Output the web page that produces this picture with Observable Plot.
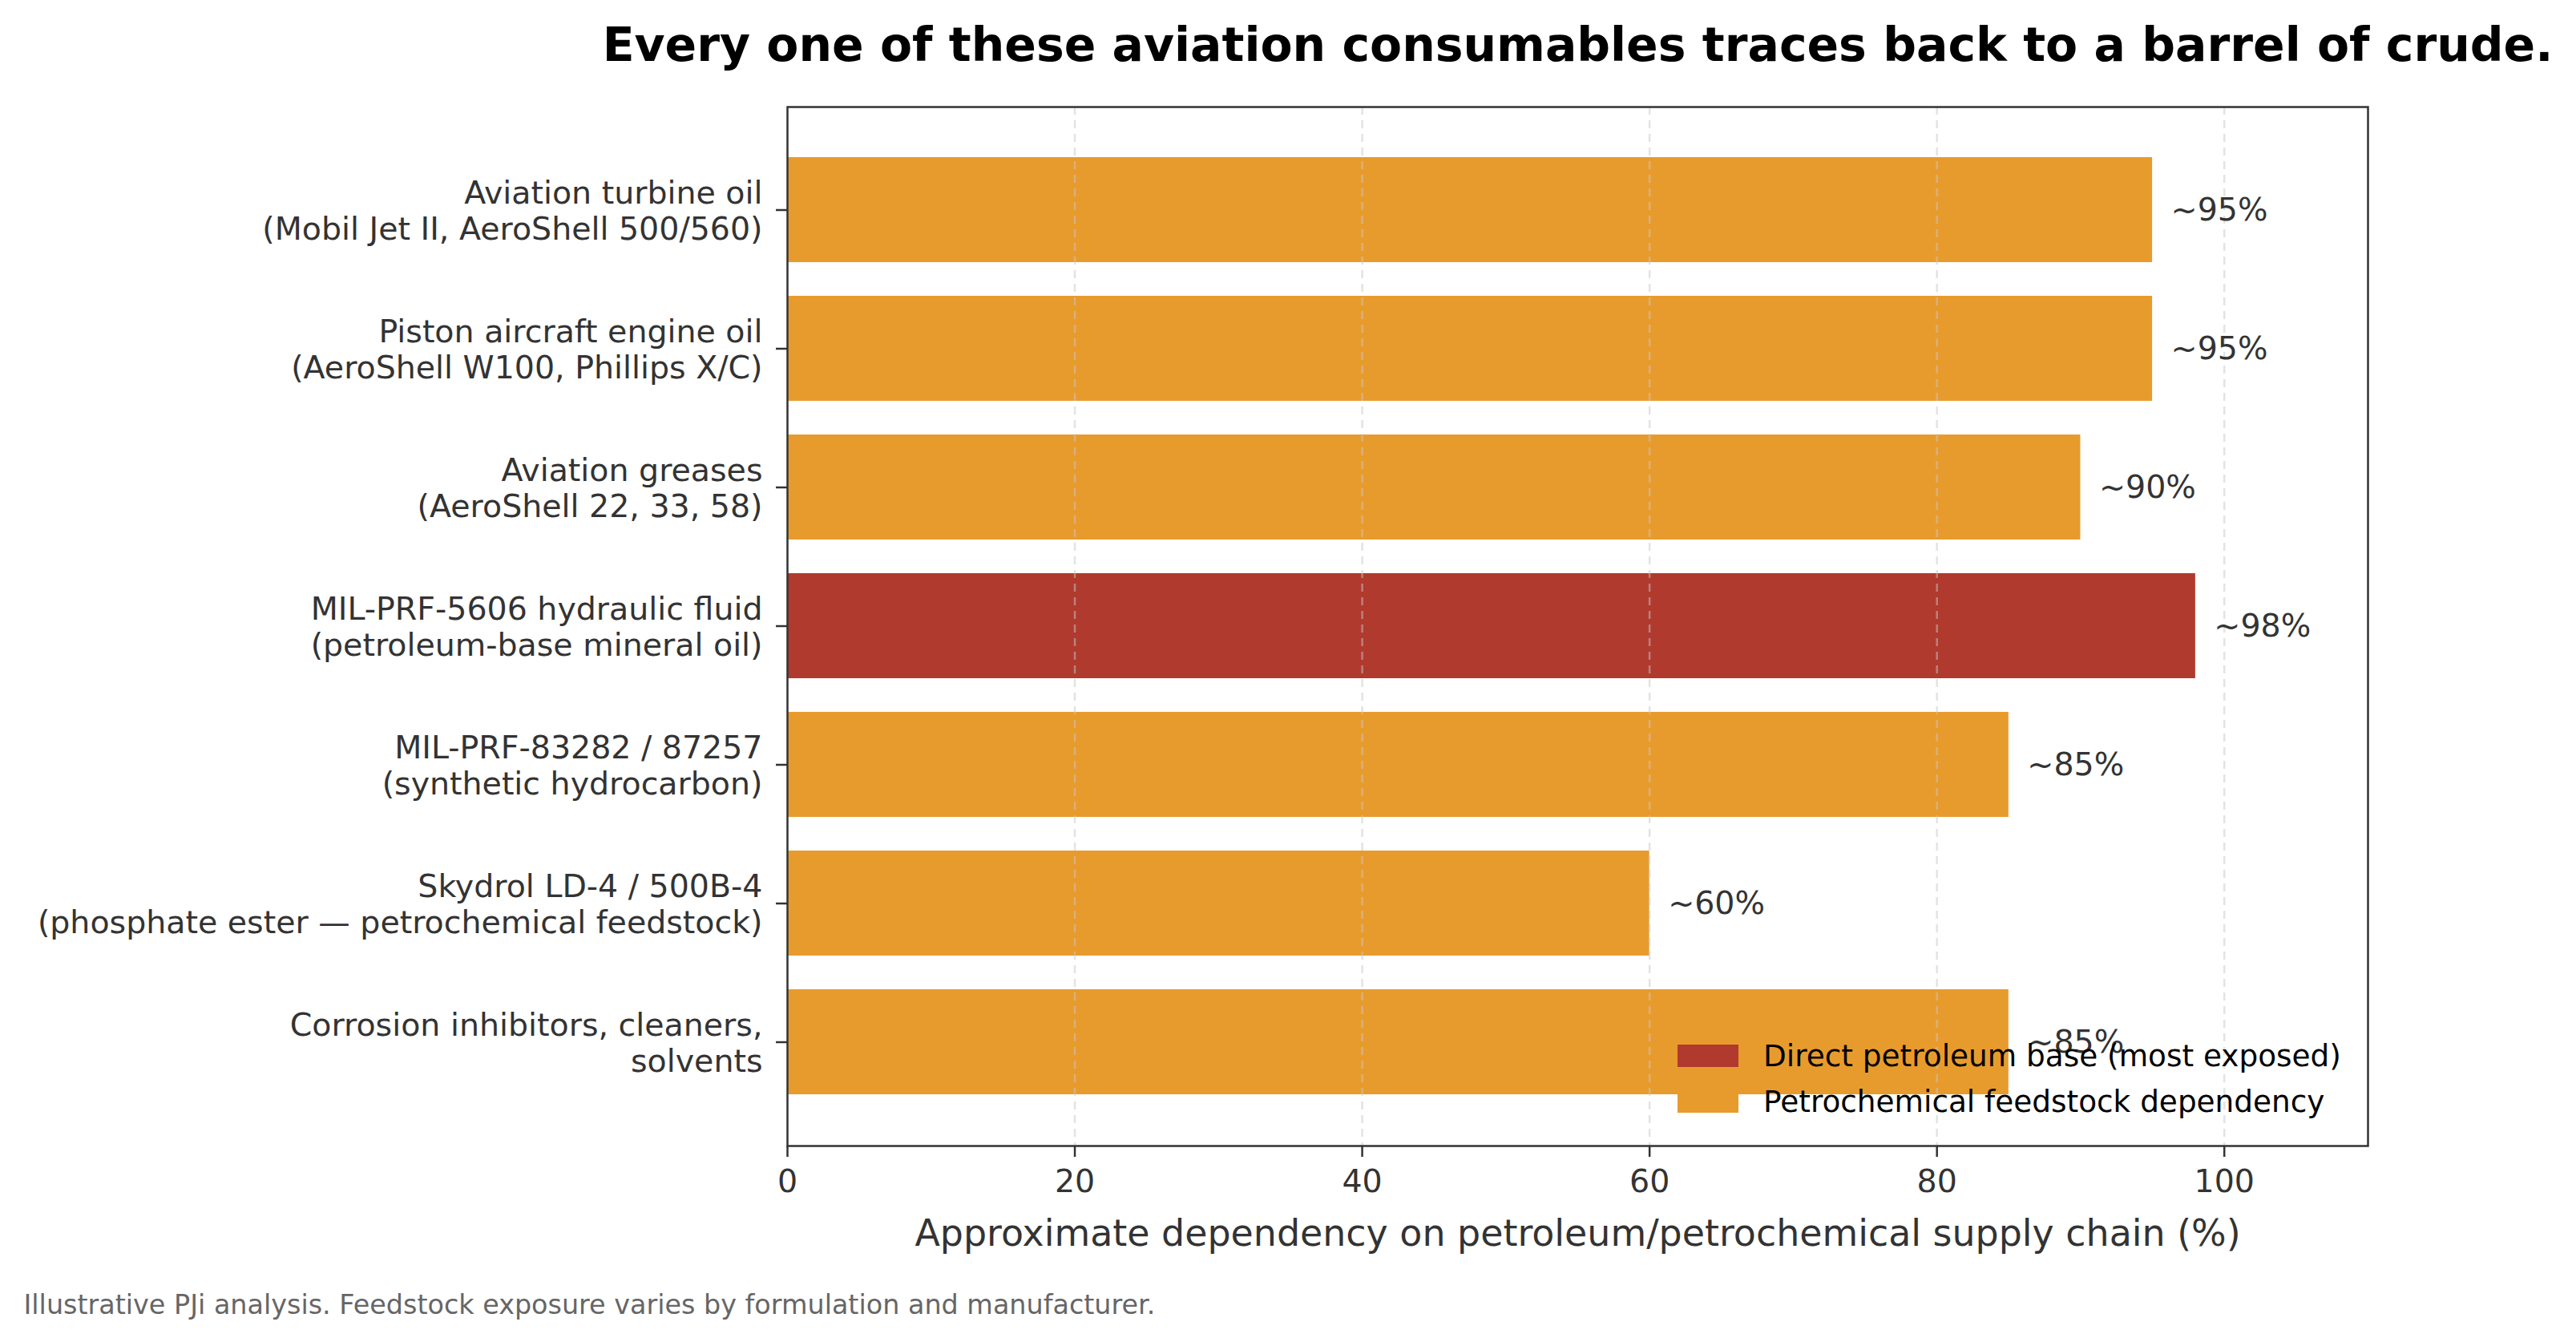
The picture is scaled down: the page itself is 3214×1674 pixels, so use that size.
<!DOCTYPE html>
<html><head><meta charset="utf-8">
<script src="https://cdn.jsdelivr.net/npm/d3@7"></script>
<script src="https://cdn.jsdelivr.net/npm/@observablehq/plot@0.6"></script>
<style>
html,body{margin:0;padding:0;background:#fff;}
#chart{position:relative;width:3214px;height:1674px;overflow:hidden;font-family:"DejaVu Sans",sans-serif;}
#legend{position:absolute;left:2093px;top:1288.5px;font-size:37.4px;color:#000;font-family:"DejaVu Sans",sans-serif;}
#legend .row{display:flex;align-items:center;height:57px;white-space:nowrap;}
#legend .sw{width:76px;height:28px;margin-right:31px;flex:none;}
</style></head><body><div id="chart"></div>
<script>
const categories = [
  "Aviation turbine oil\n(Mobil Jet II, AeroShell 500/560)",
  "Piston aircraft engine oil\n(AeroShell W100, Phillips X/C)",
  "Aviation greases\n(AeroShell 22, 33, 58)",
  "MIL-PRF-5606 hydraulic fluid\n(petroleum-base mineral oil)",
  "MIL-PRF-83282 / 87257\n(synthetic hydrocarbon)",
  "Skydrol LD-4 / 500B-4\n(phosphate ester \u2014 petrochemical feedstock)",
  "Corrosion inhibitors, cleaners,\nsolvents"
];
const values = [95, 95, 90, 98, 85, 60, 85];
const types = ["feedstock", "feedstock", "feedstock", "direct", "feedstock", "feedstock", "feedstock"];
const typeKeys = ["direct", "feedstock"];
const typeNames = ["Direct petroleum base (most exposed)", "Petrochemical feedstock dependency"];
const typeColors = ["#B03A2E", "#E89B2D"];
const xTicks = [0, 20, 40, 60, 80, 100];
const titleText = "Every one of these aviation consumables traces back to a barrel of crude.";
const xLabelText = "Approximate dependency on petroleum/petrochemical supply chain (%)";
const captionText = "Illustrative PJi analysis. Feedstock exposure varies by formulation and manufacturer.";

const data = categories.map((c, i) => ({category: c, value: values[i], type: types[i], label: `~${values[i]}%`}));

const plot = Plot.plot({
  width: 3214, height: 1674,
  marginLeft: 982, marginRight: 260, marginTop: 133, marginBottom: 245,
  style: {fontFamily: "DejaVu Sans", fontSize: "39.5px", color: "#333", background: "#fff", overflow: "visible"},
  x: {domain: [0, 110], label: null},
  y: {domain: categories, paddingInner: 0.24, paddingOuter: 0.36, label: null},
  color: {domain: typeKeys, range: typeColors},
  marks: [
    Plot.barX(data, {x: "value", y: "category", fill: "type"}),
    Plot.gridX(xTicks.filter(d => d > 0), {stroke: "#c8c8c8", strokeOpacity: 0.5, strokeWidth: 2.5, strokeDasharray: "10,7"}),
    Plot.text(data, {x: "value", y: "category", text: "label", textAnchor: "start", dx: 23, fill: "#333", fontSize: 39.5}),
    Plot.axisX({ticks: xTicks, tickSize: 14, tickPadding: 15, strokeWidth: 2.5, label: null, fontSize: 39.5}),
    Plot.axisY({tickSize: 14, tickPadding: 17, strokeWidth: 2.5, label: null, lineHeight: 1.15, fontSize: 39.5}),
    Plot.frame({stroke: "#333", strokeWidth: 2.5}),
    Plot.text([titleText], {text: d => d, frameAnchor: "top", dy: -58, lineAnchor: "bottom", fontSize: 58.4, fontWeight: "bold", fill: "#000"}),
    Plot.text([xLabelText], {text: d => d, frameAnchor: "bottom", dy: 124, lineAnchor: "bottom", fontSize: 45.9, fill: "#333"}),
    Plot.text([captionText], {text: d => d, frameAnchor: "bottom-left", dx: -953, dy: 209, lineAnchor: "bottom", textAnchor: "start", fontSize: 33.4, fill: "#666"})
  ]
});

const chart = document.getElementById("chart");
chart.appendChild(plot);

const color = plot.scale("color");
const legend = document.createElement("div");
legend.id = "legend";
color.domain.forEach((k, i) => {
  const row = document.createElement("div");
  row.className = "row";
  const sw = document.createElement("div");
  sw.className = "sw";
  sw.style.background = color.range[i];
  const lab = document.createElement("span");
  lab.textContent = typeNames[typeKeys.indexOf(k)];
  row.appendChild(sw);
  row.appendChild(lab);
  legend.appendChild(row);
});
chart.appendChild(legend);
</script>
</body></html>
